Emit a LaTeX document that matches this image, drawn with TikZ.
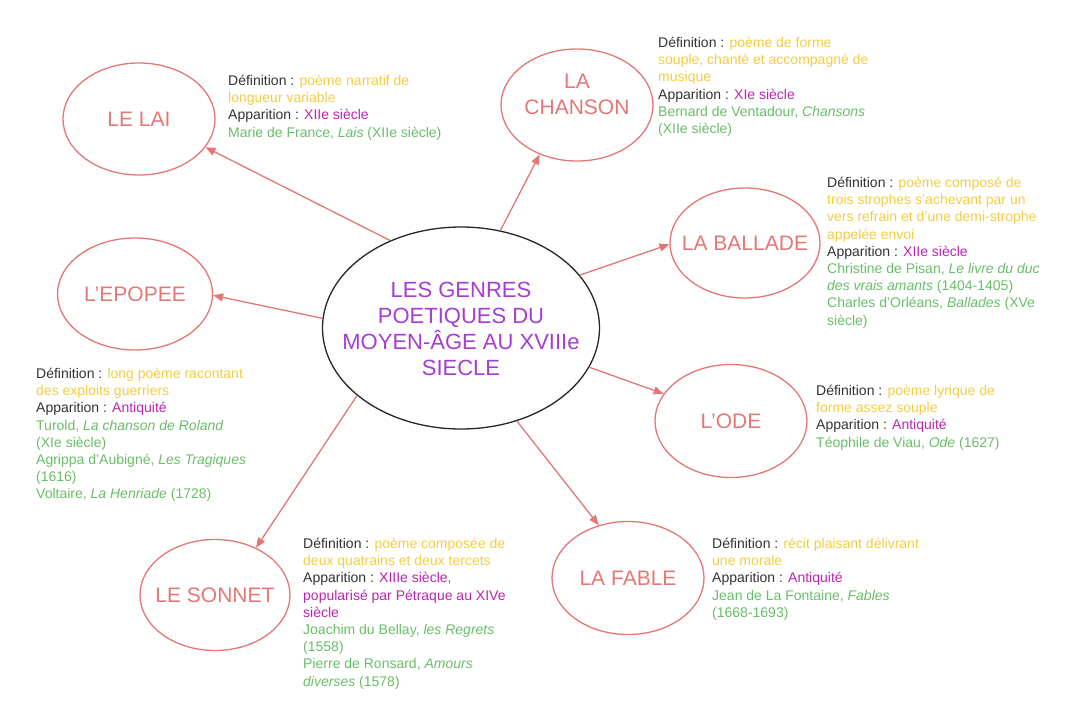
\documentclass[tikz,border=0pt]{standalone}
\usepackage{fontspec}
\setmainfont{Liberation Sans}
\usepackage{tikz}
\usetikzlibrary{shapes.geometric}
\usetikzlibrary{arrows.meta}
\definecolor{sa}{RGB}{229,118,118}
\definecolor{tx}{RGB}{50,50,50}
\definecolor{df}{RGB}{244,204,64}
\definecolor{ap}{RGB}{186,36,176}
\definecolor{au}{RGB}{104,189,104}
\definecolor{ti}{RGB}{166,60,212}
\def\Def#1{\textcolor{tx}{Définition :} \textcolor{df}{#1}}
\def\App#1{\textcolor{tx}{Apparition :} \textcolor{ap}{#1}}
\def\serre{\lineskiplimit=-20pt\relax}
\tikzset{
  genre/.style={ellipse, draw=sa, line width=1.3pt, minimum width=152pt, minimum height=112pt, inner sep=0pt},
  nom/.style={text=sa, align=center, inner sep=0pt, font=\fontsize{21}{26}\selectfont\serre},
  lien/.style={draw=sa, line width=1.3pt, -{Triangle[length=10pt,width=8pt]}},
  info/.style={anchor=north west, inner sep=0pt, align=left, font=\fontsize{14}{17.2}\selectfont\serre}
}
\begin{document}
\begin{tikzpicture}[x=1pt,y=-1pt]
\useasboundingbox (0,0) rectangle (1080,726);
\node[ellipse, draw=black!85, line width=1.3pt, minimum width=277pt, minimum height=202pt, inner sep=0pt] (centre) at (461,328) {};
\node[text=ti, align=center, inner sep=0pt, font=\fontsize{22}{26}\selectfont\serre] (titre) at (461,329) {LES GENRES\\POETIQUES DU\\MOYEN-ÂGE AU XVIIIe\\SIECLE};
% les genres
\node[genre] (lai) at (139,119) {};
\node[genre] (chanson) at (577,105) {};
\node[genre, minimum width=150pt, minimum height=110pt] (ballade) at (745,243) {};
\node[genre, minimum width=155pt] (epopee) at (135,294) {};
\node[genre, minimum height=113pt] (ode) at (731,421) {};
\node[genre, minimum height=113pt] (fable) at (628,578) {};
\node[genre, minimum width=150pt, minimum height=111pt] (sonnet) at (215,595) {};
\node[nom] (nlai) at (lai) {LE LAI};
\node[nom] (nchanson) at (577,94) {LA\\CHANSON};
\node[nom] (nballade) at (ballade) {LA BALLADE};
\node[nom] (nepopee) at (epopee) {L'EPOPEE};
\node[nom] (node) at (ode) {L'ODE};
\node[nom] (nfable) at (fable) {LA FABLE};
\node[nom] (nsonnet) at (sonnet) {LE SONNET};
% les liens
\draw[lien] (centre.129) -- (lai.-23.6);
\draw[lien] (centre.68) -- (chanson.233);
\draw[lien] (centre.24) -- (ballade.181.5);
\draw[lien] (centre.176.7) -- (epopee.-1.5);
\draw[lien] (centre.-17.9) -- (ode.158.8);
\draw[lien] (centre.-59.6) -- (fable.119);
\draw[lien] (centre.213.2) -- (sonnet.49.3);
% les textes
\node[info] (tlai) at (228,75) {\Def{poème narratif de}\\
  \textcolor{df}{longueur variable}\\
  \App{XIIe siècle}\\
  \textcolor{au}{Marie de France, \textit{Lais} (XIIe siècle)}};
\node[info] (tchanson) at (658,37) {\Def{poème de forme}\\
  \textcolor{df}{souple, chanté et accompagné de}\\
  \textcolor{df}{musique}\\
  \App{XIe siècle}\\
  \textcolor{au}{Bernard de Ventadour, \textit{Chansons}}\\
  \textcolor{au}{(XIIe siècle)}};
\node[info] (tballade) at (827,177) {\Def{poème composé de}\\
  \textcolor{df}{trois strophes s'achevant par un}\\
  \textcolor{df}{vers refrain et d'une demi-strophe}\\
  \textcolor{df}{appelée envoi}\\
  \App{XIIe siècle}\\
  \textcolor{au}{Christine de Pisan, \textit{Le livre du duc}}\\
  \textcolor{au}{\textit{des vrais amants} (1404-1405)}\\
  \textcolor{au}{Charles d'Orléans, \textit{Ballades} (XVe}\\
  \textcolor{au}{siècle)}};
\node[info] (tepopee) at (36,368) {\Def{long poème racontant}\\
  \textcolor{df}{des exploits guerriers}\\
  \App{Antiquité}\\
  \textcolor{au}{Turold, \textit{La chanson de Roland}}\\
  \textcolor{au}{(XIe siècle)}\\
  \textcolor{au}{Agrippa d'Aubigné, \textit{Les Tragiques}}\\
  \textcolor{au}{(1616)}\\
  \textcolor{au}{Voltaire, \textit{La Henriade} (1728)}};
\node[info] (tode) at (816,385) {\Def{poème lyrique de}\\
  \textcolor{df}{forme assez souple}\\
  \App{Antiquité}\\
  \textcolor{au}{Téophile de Viau, \textit{Ode} (1627)}};
\node[info] (tfable) at (712,538) {\Def{récit plaisant délivrant}\\
  \textcolor{df}{une morale}\\
  \App{Antiquité}\\
  \textcolor{au}{Jean de La Fontaine, \textit{Fables}}\\
  \textcolor{au}{(1668-1693)}};
\node[info] (tsonnet) at (303,538) {\Def{poème composée de}\\
  \textcolor{df}{deux quatrains et deux tercets}\\
  \App{XIIIe siècle,}\\
  \textcolor{ap}{popularisé par Pétraque au XIVe}\\
  \textcolor{ap}{siècle}\\
  \textcolor{au}{Joachim du Bellay, \textit{les Regrets}}\\
  \textcolor{au}{(1558)}\\
  \textcolor{au}{Pierre de Ronsard, \textit{Amours}}\\
  \textcolor{au}{\textit{diverses} (1578)}};
\end{tikzpicture}
\end{document}
